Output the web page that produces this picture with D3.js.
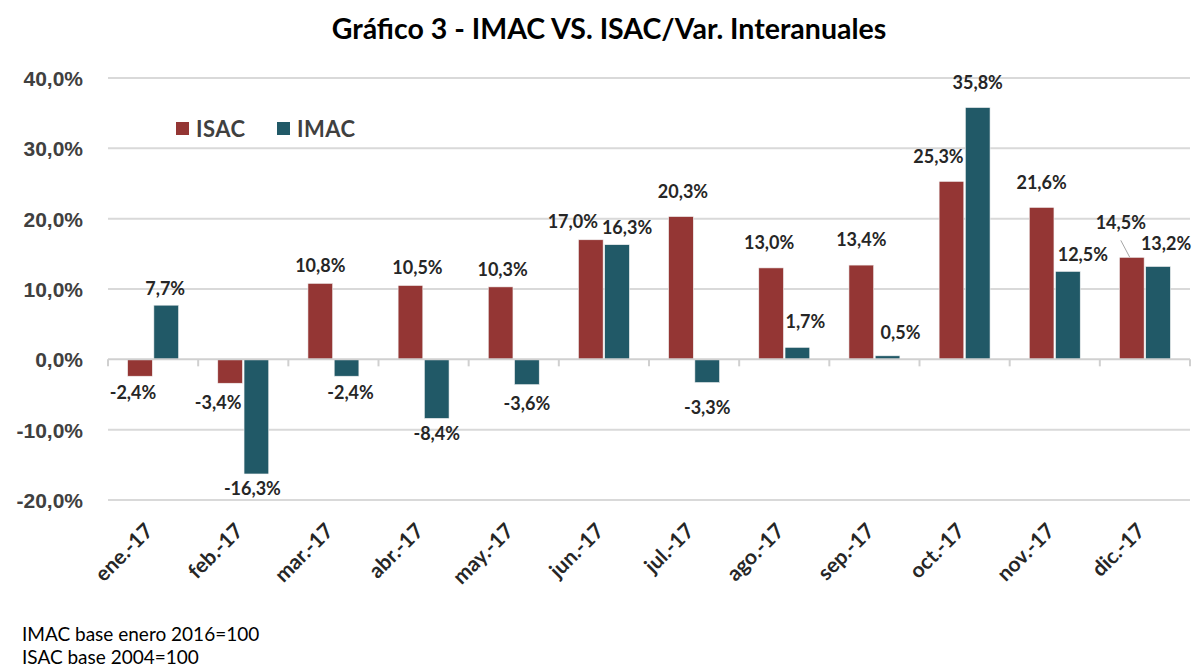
<!DOCTYPE html>
<html>
<head>
<meta charset="utf-8">
<script src="https://cdnjs.cloudflare.com/ajax/libs/d3/7.8.5/d3.min.js"></script>
<style>
  body { margin: 0; background: #fff; font-family: Lato, "Open Sans", sans-serif; }
  svg text { fill: #262626; }
</style>
</head>
<body>
<script>
// datos
var months = ["ene.-17","feb.-17","mar.-17","abr.-17","may.-17","jun.-17","jul.-17","ago.-17","sep.-17","oct.-17","nov.-17","dic.-17"];
var isac = [-2.4, -3.4, 10.8, 10.5, 10.3, 17.0, 20.3, 13.0, 13.4, 25.3, 21.6, 14.5];
var imac = [7.7, -16.3, -2.4, -8.4, -3.6, 16.3, -3.3, 1.7, 0.5, 35.8, 12.5, 13.2];
var yTicks = [-20, -10, 0, 10, 20, 30, 40];
var seriesNames = ["ISAC", "IMAC"];
var colors = {ISAC: "#943634", IMAC: "#215967"};

// ajustes manuales de etiquetas [dx, dy]
var nudgeIsac = [[-7,0],[-12,3],[0,-4],[7,-4],[2,-3],[-18,-4],[2,-11],[-2,-11],[0,-11],[-13,-11],[0,-11],[-11,-21]];
var nudgeImac = [[-1,-2],[-4,-1],[4,0],[0,-1],[0,3],[10,-3],[0,9],[8,-12],[13,-9],[0,-11],[15,-3],[8,-9]];

var w = 1199, h = 667;
var x0 = 108, x1 = 1190;

var svg = d3.select("body").append("svg").attr("width", w).attr("height", h);

var x = d3.scaleBand().domain(months).range([x0, x1]).paddingInner(0.435).paddingOuter(0.2175);
var xs = d3.scaleBand().domain(seriesNames).range([0, x.bandwidth()]).paddingInner(0.06);
var y = d3.scaleLinear().domain([-20, 40]).range([500, 78]);

// titulo
svg.append("text").attr("x", 609).attr("y", 39).attr("text-anchor", "middle")
  .style("font-size", "28.5px").style("font-weight", "bold").style("fill", "#000")
  .text("Gráfico 3 - IMAC VS. ISAC/Var. Interanuales");

// grid
svg.append("g").selectAll("line").data(yTicks.filter(function(d){ return d != 0; })).enter()
  .append("line")
  .attr("x1", x0).attr("x2", x1)
  .attr("y1", function(d){ return y(d); }).attr("y2", function(d){ return y(d); })
  .attr("stroke", "#d9d9d9").attr("stroke-width", 2);

// eje y
var yAxis = d3.axisLeft(y).tickValues(yTicks).tickSize(0).tickPadding(0)
  .tickFormat(function(d){ return d.toFixed(1).replace(".", ",") + "%"; });
var gy = svg.append("g").attr("transform", "translate(83,0)").call(yAxis);
gy.select(".domain").remove();
gy.selectAll("text").style("font-size", "21px").style("font-weight", "bold").style("fill", "#404040").attr("dy", "0.35em");

// barras
var data = [];
months.forEach(function(m, i){
  data.push({m: m, s: "ISAC", v: isac[i], n: nudgeIsac[i]});
  data.push({m: m, s: "IMAC", v: imac[i], n: nudgeImac[i]});
});

svg.append("g").selectAll("rect").data(data).enter().append("rect")
  .attr("x", function(d){ return x(d.m) + xs(d.s); })
  .attr("width", xs.bandwidth())
  .attr("y", function(d){ return y(Math.max(0, d.v)); })
  .attr("height", function(d){ return Math.abs(y(d.v) - y(0)); })
  .attr("fill", function(d){ return colors[d.s]; })
  .attr("stroke", "#f2f2f2").attr("stroke-width", 0.6);

// eje x (linea en cero)
svg.append("line").attr("x1", x0).attr("x2", x1).attr("y1", y(0)).attr("y2", y(0))
  .attr("stroke", "#d0d0d0").attr("stroke-width", 2);
var bounds = [x0].concat(months.map(function(m){ return x(m) - x.step()*x.paddingInner()/2 + x.step(); }));
svg.append("g").selectAll("line").data(bounds).enter().append("line")
  .attr("x1", function(d){ return d; }).attr("x2", function(d){ return d; })
  .attr("y1", y(0)).attr("y2", y(0) + 7)
  .attr("stroke", "#d0d0d0").attr("stroke-width", 2);

// etiquetas de mes
svg.append("g").selectAll("text").data(months).enter().append("text")
  .attr("transform", function(d){ return "translate(" + (x(d) + x.bandwidth()/2 - 4) + ",527) rotate(-45)"; })
  .attr("text-anchor", "end")
  .attr("dy", "0.35em")
  .style("font-size", "21px").style("font-weight", "bold").style("fill", "#262626")
  .text(function(d){ return d; });

// etiquetas de datos
svg.append("g").selectAll("text").data(data).enter().append("text")
  .attr("x", function(d){ return x(d.m) + xs(d.s) + xs.bandwidth()/2 + d.n[0]; })
  .attr("y", function(d){ return (d.v >= 0 ? y(d.v) - 14 : y(d.v) + 16) + d.n[1]; })
  .attr("text-anchor", "middle").attr("dy", "0.35em")
  .style("font-size", "18px").style("font-weight", "bold")
  .text(function(d){ return d.v.toFixed(1).replace(".", ",") + "%"; });

// linea guia dic ISAC
var dic = data[22];
var dx = x(dic.m) + xs(dic.s) + xs.bandwidth()/2;
svg.append("line")
  .attr("x1", dx - 11).attr("y1", y(dic.v) - 17)
  .attr("x2", dx - 2).attr("y2", y(dic.v))
  .attr("stroke", "#a6a6a6").attr("stroke-width", 1);

// leyenda
var leg = svg.append("g").selectAll("g").data(seriesNames).enter().append("g")
  .attr("transform", function(d, i){ return "translate(" + (176 + i*101) + ",122)"; });
leg.append("rect").attr("width", 13).attr("height", 13).attr("fill", function(d){ return colors[d]; });
leg.append("text").attr("x", 20).attr("y", 7).attr("dy", "0.35em")
  .style("font-size", "22px").style("font-weight", "bold").style("fill", "#404040")
  .style("letter-spacing", "0.5px")
  .text(function(d){ return d; });

// notas
svg.append("text").attr("x", 22).attr("y", 641).style("font-size", "19px").style("fill", "#000")
  .text("IMAC base enero 2016=100");
svg.append("text").attr("x", 22).attr("y", 664).style("font-size", "19px").style("fill", "#000")
  .text("ISAC base 2004=100");
</script>
</body>
</html>
